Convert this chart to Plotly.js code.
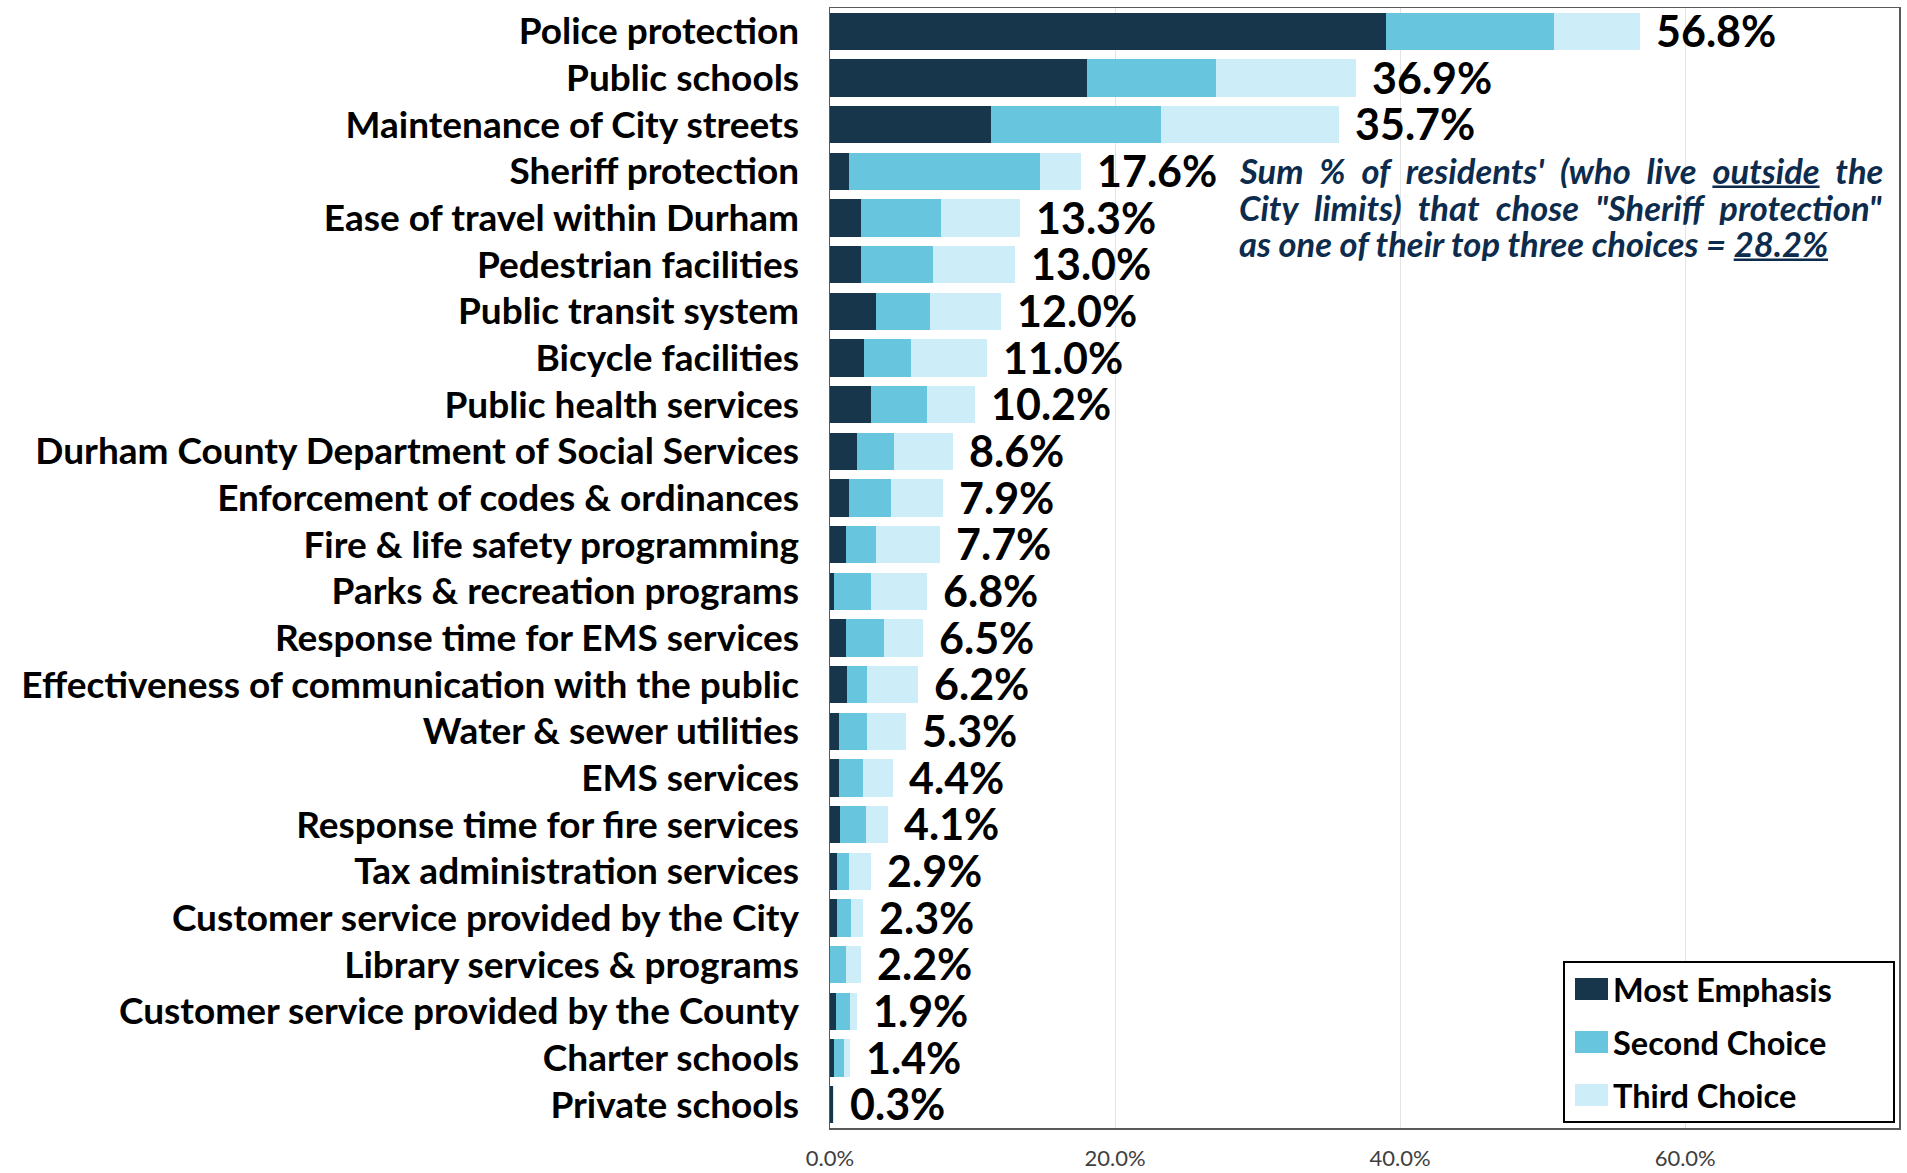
<!DOCTYPE html>
<html>
<head>
<meta charset="utf-8">
<script src="https://cdn.plot.ly/plotly-3.0.1.min.js"></script>
<style>
  html, body { margin: 0; padding: 0; background: #ffffff; }
  #chart { width: 1907px; height: 1173px; }
</style>
</head>
<body>
<div id="chart"></div>
<script>
// ---------------- DATA ----------------
const categories = [
  "Police protection",
  "Public schools",
  "Maintenance of City streets",
  "Sheriff protection",
  "Ease of travel within Durham",
  "Pedestrian facilities",
  "Public transit system",
  "Bicycle facilities",
  "Public health services",
  "Durham County Department of Social Services",
  "Enforcement of codes & ordinances",
  "Fire & life safety programming",
  "Parks & recreation programs",
  "Response time for EMS services",
  "Effectiveness of communication with the public",
  "Water & sewer utilities",
  "EMS services",
  "Response time for fire services",
  "Tax administration services",
  "Customer service provided by the City",
  "Library services & programs",
  "Customer service provided by the County",
  "Charter schools",
  "Private schools"
];
const mostEmphasis = [39.0, 18.0, 11.3, 1.3, 2.2, 2.2, 3.2, 2.4, 2.9, 1.9, 1.3, 1.1, 0.3, 1.1, 1.2, 0.6, 0.6, 0.7, 0.5, 0.5, 0.0, 0.4, 0.3, 0.2];
const secondChoice = [11.8, 9.1, 11.9, 13.4, 5.6, 5.0, 3.8, 3.3, 3.9, 2.6, 3.0, 2.1, 2.6, 2.7, 1.4, 2.0, 1.7, 1.8, 0.8, 1.0, 1.1, 1.0, 0.7, 0.0];
const thirdChoice  = [6.0, 9.8, 12.5, 2.9, 5.5, 5.8, 5.0, 5.3, 3.4, 4.1, 3.6, 4.5, 3.9, 2.7, 3.6, 2.7, 2.1, 1.6, 1.6, 0.8, 1.1, 0.5, 0.4, 0.1];
const totals       = [56.8, 36.9, 35.7, 17.6, 13.3, 13.0, 12.0, 11.0, 10.2, 8.6, 7.9, 7.7, 6.8, 6.5, 6.2, 5.3, 4.4, 4.1, 2.9, 2.3, 2.2, 1.9, 1.4, 0.3];
const seriesNames  = ["Most Emphasis", "Second Choice", "Third Choice"];
const xTickValues  = [0, 20, 40, 60];
const noteLines = [
  "Sum % of residents' (who live <u>outside</u> the",
  "City limits) that chose \"Sheriff protection\"",
  "as one of their top three choices = <u>28.2%</u>"
];

// ---------------- STYLE ----------------
const colors = ["#17364b", "#68c5de", "#cdeef8"];
const FONT = "Lato, 'Open Sans', sans-serif";
const W = 1907, H = 1173;
const M = { l: 830, r: 8, t: 8, b: 45 };
const PW = W - M.l - M.r, PH = H - M.t - M.b;
const px2x = px => (px - M.l) / PW;
const py2y = py => 1 - (py - M.t) / PH;

const seriesValues = [mostEmphasis, secondChoice, thirdChoice];
const traces = seriesValues.map((vals, k) => ({
  type: "bar",
  orientation: "h",
  name: seriesNames[k],
  y: categories,
  x: vals,
  marker: { color: colors[k], line: { width: 0 } },
  hoverinfo: "x+y+name"
}));

const annotations = [];
categories.forEach((c, i) => {
  annotations.push({
    x: totals[i], y: c, xref: "x", yref: "y",
    text: totals[i].toFixed(1) + "%",
    showarrow: false, xanchor: "left", yanchor: "middle", xshift: 14, yshift: 1,
    font: { family: FONT, size: 43, color: "#000000", weight: 700 }
  });
});

// note (three lines, first two justified to the same width)
const NOTE_SIZE = 34.5;
const noteLeft = 1237, noteRight = 1881;
const noteY = [170, 207, 243];
const mctx = document.createElement("canvas").getContext("2d");
mctx.font = "italic 700 " + NOTE_SIZE + "px Lato";
noteLines.forEach((t, i) => {
  let txt = t;
  if (i < noteLines.length - 1) {
    const plain = t.replace(/<[^>]+>/g, "");
    const natural = mctx.measureText(plain).width;
    const gaps = plain.split(" ").length - 1;
    const ws = Math.max(0, (noteRight - noteLeft - natural) / gaps);
    txt = '<span style="word-spacing:' + ws.toFixed(2) + 'px">' + t + "</span>";
  }
  annotations.push({
    x: px2x(noteLeft), y: py2y(noteY[i]), xref: "paper", yref: "paper",
    text: "<b><i>" + txt + "</i></b>",
    showarrow: false, xanchor: "left", yanchor: "middle",
    height: 36, valign: "middle",
    font: { family: FONT, size: NOTE_SIZE, color: "#0d2c4d" }
  });
});

// custom legend
const shapes = [];
shapes.push({
  type: "rect", xref: "paper", yref: "paper", layer: "above",
  x0: px2x(1564), x1: px2x(1894), y0: py2y(1122), y1: py2y(962),
  fillcolor: "#ffffff", line: { color: "#000000", width: 2 }
});
const legY = [989, 1042, 1095];
seriesNames.forEach((n, k) => {
  shapes.push({
    type: "rect", xref: "paper", yref: "paper", layer: "above",
    x0: px2x(1575), x1: px2x(1608), y0: py2y(legY[k] + 11), y1: py2y(legY[k] - 11),
    fillcolor: colors[k], line: { width: 0 }
  });
  annotations.push({
    x: px2x(1611), y: py2y(legY[k]), xref: "paper", yref: "paper",
    text: "<b>" + n + "</b>", showarrow: false, xanchor: "left", yanchor: "middle",
    font: { family: FONT, size: 32.5, color: "#000000" }
  });
});

const layout = {
  width: W, height: H,
  margin: M,
  paper_bgcolor: "#ffffff", plot_bgcolor: "#ffffff",
  barmode: "stack",
  bargap: 0.2,
  showlegend: false,
  xaxis: {
    range: [0, 75],
    tickvals: xTickValues,
    ticktext: xTickValues.map(v => v.toFixed(1) + "%"),
    showgrid: true, gridcolor: "#e3e3e3", gridwidth: 1,
    zeroline: false,
    showline: true, mirror: true, linecolor: "#595959", linewidth: 1.5,
    ticks: "", ticklabelstandoff: 10,
    tickfont: { family: FONT, size: 22, color: "#404040" },
    fixedrange: true
  },
  yaxis: {
    type: "category",
    categoryorder: "array", categoryarray: categories,
    range: [categories.length - 0.5, -0.5],
    showgrid: false, zeroline: false,
    showline: true, mirror: true, linecolor: "#595959", linewidth: 1.5,
    ticks: "", ticklabelstandoff: 22,
    tickfont: { family: FONT, size: 37, color: "#000000", weight: 700 },
    fixedrange: true
  },
  annotations: annotations,
  shapes: shapes
};

Plotly.newPlot("chart", traces, layout, { displayModeBar: false, staticPlot: true });
</script>
</body>
</html>
